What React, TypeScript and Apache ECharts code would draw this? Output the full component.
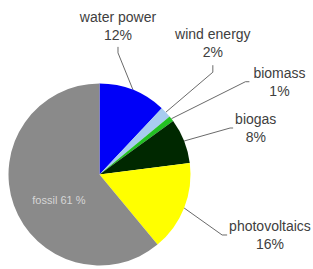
import React, { useEffect, useRef } from 'react';
import * as echarts from 'echarts';

const categories = ['water power', 'wind energy', 'biomass', 'biogas', 'photovoltaics', 'fossil'];
const shares = [12, 2, 1, 8, 16, 61];
const sliceColors = ['#0000f8', '#a8ccf0', '#22c022', '#002800', '#ffff00', '#8a8a8a'];

// Leader line shape, relative to the slice's outer edge point at its mid angle.
const leaders = [
  { bend: [-15, -37], end: [-15, -43], place: 'top', gap: 3 },
  { bend: [47, -40], end: [47, -47], place: 'top', gap: 4 },
  { bend: [74, -37], end: [78, -37], place: 'right', gap: 4 },
  { bend: [46, -13], end: [49, -13], place: 'right', gap: 2 },
  { bend: [38, 27], end: [43, 27], place: 'right', gap: 2 },
];

export default function App() {
  const ref = useRef<HTMLDivElement>(null);

  useEffect(() => {
    if (!ref.current) return;
    const chart = echarts.init(ref.current, null, { renderer: 'svg' });
    const fossilIdx = categories.length - 1;
    const data = categories.map((name, i) => {
      const item: any = { name, value: shares[i], itemStyle: { color: sliceColors[i] } };
      if (i === fossilIdx) {
        item.label = {
          position: 'inside',
          formatter: '{b} {c} %',
          color: '#d6d6d6',
          fontSize: 11,
          lineHeight: 14,
        };
        item.labelLine = { show: false };
      }
      return item;
    });

    chart.setOption({
      animation: false,
      backgroundColor: '#ffffff',
      series: [
        {
          type: 'pie',
          center: [99.5, 174.5],
          radius: 91,
          startAngle: 90,
          clockwise: true,
          avoidLabelOverlap: false,
          silent: true,
          itemStyle: { borderWidth: 0 },
          label: {
            show: true,
            position: 'outside',
            formatter: '{b}\n{c}%',
            fontFamily: 'Liberation Sans, Arial, sans-serif',
            fontSize: 14,
            lineHeight: 18,
            color: '#404040',
          },
          labelLine: {
            show: true,
            length: 5,
            length2: 5,
            smooth: false,
            lineStyle: { color: '#6a6a6a', width: 1 },
          },
          labelLayout: (p: any) => {
            const i = p.dataIndex;
            const r = p.labelRect;
            if (i === fossilIdx) {
              return {
                x: r.x + r.width / 2 + 5,
                y: r.y + r.height / 2 + 9,
                align: 'center',
                verticalAlign: 'middle',
              };
            }
            const pts = p.labelLinePoints;
            if (!pts || !pts[0]) return {};
            const [x0, y0] = pts[0];
            const L = leaders[i];
            const bx = x0 + L.bend[0];
            const by = y0 + L.bend[1];
            const ex = x0 + L.end[0];
            const ey = y0 + L.end[1];
            const lp = [[x0, y0], [bx, by], [ex, ey]];
            if (L.place === 'top') {
              return { x: ex, y: ey - L.gap, align: 'center', verticalAlign: 'bottom', labelLinePoints: lp };
            }
            return { x: ex + L.gap + r.width / 2, y: ey, align: 'center', verticalAlign: 'middle', labelLinePoints: lp };
          },
          data,
        },
      ],
    });
    return () => chart.dispose();
  }, []);

  return (
    <div
      ref={ref}
      style={{ position: 'absolute', left: 0, top: 0, width: 313, height: 269, background: '#fff' }}
    />
  );
}
